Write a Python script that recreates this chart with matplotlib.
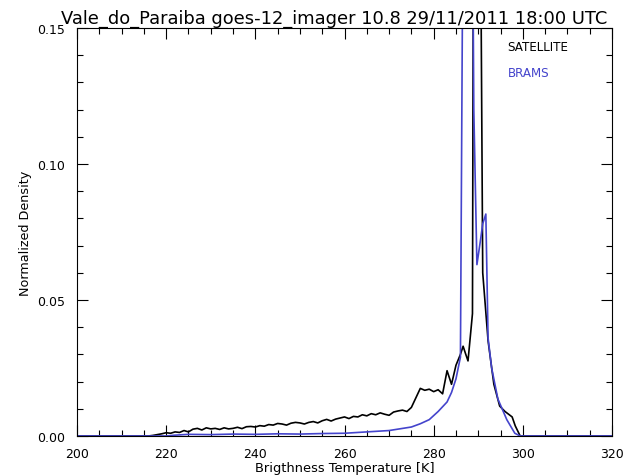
import matplotlib
matplotlib.use("Agg")
import matplotlib.pyplot as plt
from matplotlib.ticker import MultipleLocator

# SATELLITE (goes-12 imager 10.8) brightness temperature histogram
sat_temp = [200, 205, 210, 216, 217, 218, 219, 220, 221, 222, 223, 224, 225, 226, 227, 228, 229,
            230, 231, 232, 233, 234, 235, 236, 237, 238, 239, 240, 241, 242, 243, 244, 245,
            246, 247, 248, 249, 250, 251, 252, 253, 254, 255, 256, 257, 258, 259, 260, 261,
            262, 263, 264, 265, 266, 267, 268, 269, 270, 271, 272, 273, 274, 275, 276, 277,
            278, 279, 280, 281, 282, 283, 284, 285, 286, 286.6, 287.2, 287.7, 288.3, 288.7,
            289.0, 289.8, 290.4, 291.0, 292.2, 293.5, 294.8, 296.0, 297.6, 298.3, 299.4, 305, 320]
sat_dens = [0, 0, 0, 0, 0.0002, 0.0005, 0.0008, 0.0012, 0.0010, 0.0015, 0.0013, 0.0020, 0.0015,
            0.0025, 0.0028, 0.0022, 0.0030, 0.0026, 0.0028, 0.0024, 0.0030, 0.0026, 0.0028, 0.0032,
            0.0027, 0.0034, 0.0035, 0.0033, 0.0038, 0.0036, 0.0042, 0.0040, 0.0046, 0.0044, 0.0040,
            0.0047, 0.0050, 0.0048, 0.0044, 0.0050, 0.0053, 0.0048, 0.0056, 0.0061, 0.0055, 0.0062,
            0.0066, 0.0070, 0.0064, 0.0072, 0.0070, 0.0078, 0.0074, 0.0082, 0.0078, 0.0085, 0.0080,
            0.0076, 0.0088, 0.0092, 0.0095, 0.0090, 0.0105, 0.0140, 0.0175, 0.0168, 0.0172, 0.0163,
            0.0170, 0.0155, 0.0240, 0.0190, 0.0260, 0.0300, 0.0330, 0.0300, 0.0276, 0.0380, 0.0450,
            0.25, 0.30, 0.22, 0.06, 0.035, 0.019, 0.011, 0.009, 0.007, 0.0037, 0, 0, 0]

# BRAMS model histogram
brams_temp = [200, 210, 220, 222, 225, 230, 235, 240, 245, 250, 255, 260, 265, 270, 275, 277,
              279, 281, 283, 284, 285, 286, 286.6, 287.5, 288.5, 289.0, 289.7, 290.5, 291.0,
              291.7, 292.2, 293.0, 294.4, 296.4, 298.2, 299.4, 310, 320]
brams_dens = [0, 0, 0, 0.0003, 0.0006, 0.0005, 0.0007, 0.0006, 0.0008, 0.0007, 0.0009, 0.0010,
              0.0015, 0.0020, 0.0033, 0.0045, 0.0060, 0.0090, 0.0125, 0.0160, 0.0210, 0.0290,
              0.20, 0.30, 0.25, 0.12, 0.063, 0.072, 0.078, 0.0816, 0.036, 0.025, 0.0136, 0.006,
              0.001, 0, 0, 0]

blue = "#4444cc"

fig = plt.figure(figsize=(6.24, 4.77), dpi=100)
ax = fig.add_axes([0.1234, 0.0839, 0.8574, 0.8553])
ax.plot(sat_temp, sat_dens, color="black", lw=1.2)
ax.plot(brams_temp, brams_dens, color=blue, lw=1.2)

ax.set_xlim(200, 320)
ax.set_ylim(0, 0.15)
ax.xaxis.set_major_locator(MultipleLocator(20))
ax.xaxis.set_minor_locator(MultipleLocator(5))
ax.yaxis.set_major_locator(MultipleLocator(0.05))
ax.yaxis.set_minor_locator(MultipleLocator(0.01))
ax.yaxis.set_major_formatter(plt.FormatStrFormatter("%.2f"))
ax.tick_params(which="both", direction="in", top=True, right=True, labelsize=9, width=0.8)
ax.tick_params(which="major", length=8)
ax.tick_params(which="minor", length=4)
ax.tick_params(axis="x", pad=8)
ax.tick_params(axis="y", pad=8.5)
for s in ax.spines.values():
    s.set_linewidth(0.8)

ax.set_title("Vale_do_Paraiba goes-12_imager 10.8 29/11/2011 18:00 UTC", fontsize=12.9,
             pad=4, x=0.48)
ax.set_xlabel("Brigthness Temperature [K]", fontsize=9.4, labelpad=1)
ax.set_ylabel("Normalized Density", fontsize=9.2, labelpad=3.5)

ax.text(0.805, 0.9535, "SATELLITE", transform=ax.transAxes, ha="left", va="center",
        fontsize=8.6, color="black")
ax.text(0.805, 0.892, "BRAMS", transform=ax.transAxes, ha="left", va="center",
        fontsize=8.6, color=blue)

fig.savefig("out.png", dpi=100)
